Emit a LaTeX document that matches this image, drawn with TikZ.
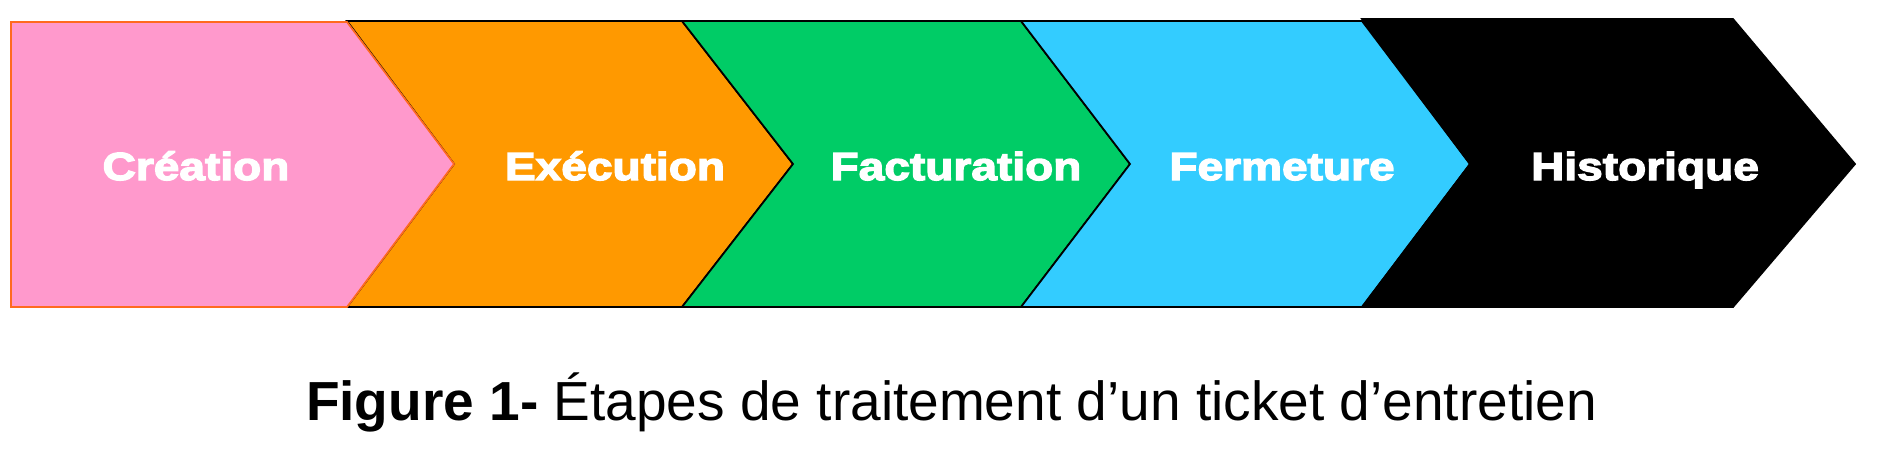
\documentclass[tikz,border=0pt]{standalone}
\usepackage{fontspec}
\setmainfont{Liberation Sans}
\newfontfamily\stepfont{Liberation Sans}[FakeStretch=1.18,BoldFeatures={FakeBold=3.5}]
\usepackage{tikz}
\definecolor{pinkstep}{HTML}{FF99CC}
\definecolor{orangestep}{HTML}{FF9900}
\definecolor{greenstep}{HTML}{00CC66}
\definecolor{bluestep}{HTML}{33CCFF}
\definecolor{pinkline}{HTML}{FF6A1F}
\tikzset{
  steplabel/.style={text=white,anchor=base,inner sep=0pt,
    font=\stepfont\bfseries\fontsize{11.1pt}{13pt}\selectfont},
  stepshape/.style={line width=.5pt,line join=miter}
}

\begin{document}
\begin{tikzpicture}[x=.01cm,y=-.01cm]
\useasboundingbox (0,0) rectangle (1878,466);
\fill[white](0,0)rectangle(1878,466);
%chevrons
\foreach \s/\e/\t/\n/\c/\y in {347/682/793/454/orangestep/21,682/1021/1130/793/greenstep/21,
1021/1362/1470/1130/bluestep/21,1362/1733/1855/1470/black/19}{
\draw[stepshape,fill=\c](\s,\y)--(\e,\y)--(\t,164)--(\e,307)--(\s,307)--(\n,164)--cycle;
}
\draw[stepshape,fill=pinkstep,draw=pinkline](11,22)--(347,22)--(454,164)--(347,307)--(11,307)--cycle;
%labels
\node[steplabel](creation)at(196,180){Création};
\node[steplabel](execution)at(615,180){Exécution};
\node[steplabel](facturation)at(956,180){Facturation};
\node[steplabel](fermeture)at(1282,180){Fermeture};
\node[steplabel](historique)at(1645,180){Historique};
%caption
\node[anchor=base,inner sep=0pt,font=\fontsize{15.65pt}{18pt}\selectfont](caption)at(951.5,420)
{\textbf{Figure 1-} Étapes de traitement d’un ticket d’entretien};
\end{tikzpicture}
\end{document}
